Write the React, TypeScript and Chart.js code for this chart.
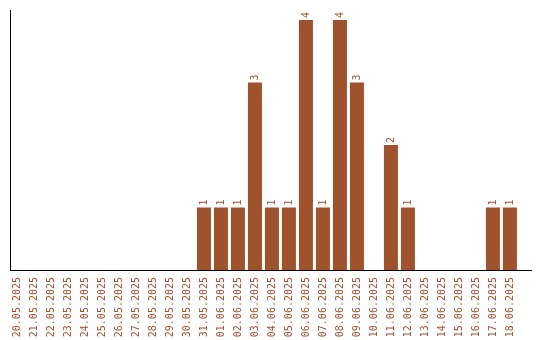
import React, { useEffect, useRef } from "react";
import { Chart, registerables } from "chart.js";

Chart.register(...registerables);

const categories = [
  "20.05.2025", "21.05.2025", "22.05.2025", "23.05.2025", "24.05.2025", "25.05.2025",
  "26.05.2025", "27.05.2025", "28.05.2025", "29.05.2025", "30.05.2025", "31.05.2025",
  "01.06.2025", "02.06.2025", "03.06.2025", "04.06.2025", "05.06.2025", "06.06.2025",
  "07.06.2025", "08.06.2025", "09.06.2025", "10.06.2025", "11.06.2025", "12.06.2025",
  "13.06.2025", "14.06.2025", "15.06.2025", "16.06.2025", "17.06.2025", "18.06.2025",
];
const counts = [
  0, 0, 0, 0, 0, 0, 0, 0, 0, 0, 0, 1,
  1, 1, 3, 1, 1, 4, 1, 4, 3, 0, 2, 1,
  0, 0, 0, 0, 1, 1,
];

const COLOR = "#A0522D";
const FONT = "'DejaVu Sans Mono', monospace";

const labelPlugin = {
  id: "barLabels",
  afterDatasetsDraw(chart: any) {
    const ctx = chart.ctx;
    const meta = chart.getDatasetMeta(0);
    ctx.save();
    ctx.fillStyle = COLOR;
    ctx.font = `10px ${FONT}`;
    ctx.textAlign = "left";
    ctx.textBaseline = "middle";
    meta.data.forEach((el: any, i: number) => {
      const v = counts[i];
      if (!v) return;
      ctx.save();
      ctx.translate(el.x, el.y - 2);
      ctx.rotate(-Math.PI / 2);
      ctx.fillText(String(v), 0, 0);
      ctx.restore();
    });
    ctx.restore();
  },
};

export default function App() {
  const ref = useRef<HTMLCanvasElement>(null);
  useEffect(() => {
    if (!ref.current) return;
    const chart = new Chart(ref.current, {
      type: "bar",
      data: {
        datasets: [
          {
            data: counts.map((v, i) => ({ x: i, y: v })),
            backgroundColor: COLOR,
            borderWidth: 0,
            barPercentage: 14 / 17,
            categoryPercentage: 1,
          },
        ],
      },
      options: {
        animation: false,
        responsive: false,
        maintainAspectRatio: false,
        devicePixelRatio: 1,
        layout: { padding: { top: 10, right: 9, left: 10, bottom: 0 } },
        plugins: { legend: { display: false }, tooltip: { enabled: false } },
        scales: {
          x: {
            type: "linear",
            min: -0.41,
            max: 30.24,
            offset: false,
            grid: { display: false, drawTicks: false },
            border: { display: true, color: "#000", width: 1 },
            afterBuildTicks: (scale: any) => {
              scale.ticks = categories.map((_, i) => ({ value: i }));
            },
            afterFit: (scale: any) => {
              scale.height = 70;
            },
            ticks: {
              color: COLOR,
              font: { family: FONT, size: 10 },
              minRotation: 90,
              maxRotation: 90,
              autoSkip: false,
              padding: 7,
              callback: (value: any) => categories[value] ?? "",
            },
          },
          y: {
            min: 0,
            max: 4.16,
            grid: { display: false, drawTicks: false },
            border: { display: true, color: "#000", width: 1 },
            ticks: { display: false },
            afterFit: (scale: any) => {
              scale.width = 0;
            },
          },
        },
      },
      plugins: [labelPlugin],
    });
    return () => chart.destroy();
  }, []);
  return (
    <div style={{ position: "fixed", left: 0, top: 0, width: 540, height: 340, background: "#fff" }}>
      <canvas ref={ref} width={540} height={340} style={{ width: 540, height: 340 }} />
    </div>
  );
}
